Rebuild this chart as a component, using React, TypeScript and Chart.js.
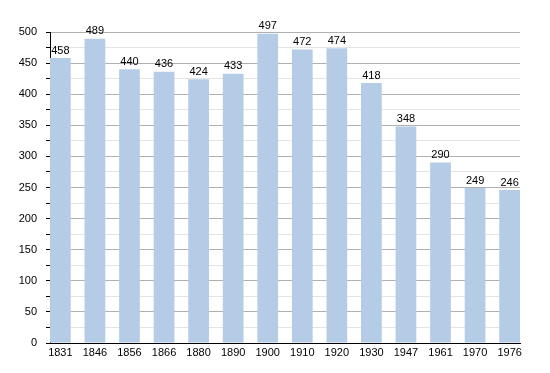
import React, { useEffect, useRef } from "react";
import { Chart, registerables } from "chart.js";

Chart.register(...registerables);

const years = ["1831", "1846", "1856", "1866", "1880", "1890", "1900", "1910", "1920", "1930", "1947", "1961", "1970", "1976"];
const population = [458, 489, 440, 436, 424, 433, 497, 472, 474, 418, 348, 290, 249, 246];

const valueLabels = {
  id: "valueLabels",
  afterDatasetsDraw(chart: any) {
    const ctx = chart.ctx;
    const meta = chart.getDatasetMeta(0);
    ctx.save();
    ctx.font = "11px 'Liberation Sans', Arial, sans-serif";
    ctx.fillStyle = "#000";
    ctx.textAlign = "center";
    ctx.textBaseline = "bottom";
    meta.data.forEach((bar: any, i: number) => {
      ctx.fillText(String(population[i]), bar.x, bar.y - 2);
    });
    ctx.restore();
  },
};

export default function App() {
  const ref = useRef<HTMLCanvasElement>(null);
  useEffect(() => {
    if (!ref.current) return;
    const chart = new Chart(ref.current, {
      type: "bar",
      data: {
        datasets: [
          {
            data: population.map((v, i) => ({ x: i, y: v })),
            backgroundColor: "#b4cce6",
            borderWidth: 0,
            barPercentage: 0.6,
            categoryPercentage: 1,
          },
        ],
      },
      options: {
        animation: false,
        responsive: true,
        maintainAspectRatio: false,
        layout: { padding: { left: 0, right: 30, top: 32, bottom: 0 } },
        plugins: { legend: { display: false }, tooltip: { enabled: false } },
        scales: {
          x: {
            type: "linear",
            offset: false,
            min: -0.3,
            max: 13.3,
            grid: { display: false, drawTicks: false, offset: false },
            border: { display: true, color: "#000", width: 1 },
            ticks: {
              stepSize: 1,
              includeBounds: false,
              autoSkip: false,
              maxRotation: 0,
              padding: 3,
              color: "#000",
              font: { family: "'Liberation Sans', Arial, sans-serif", size: 11 },
              callback: (v: any) => (Number.isInteger(v) && years[v] ? years[v] : ""),
            },
            afterFit: (s: any) => {
              s.height = 30;
            },
          },
          y: {
            min: 0,
            max: 500,
            grid: {
              color: (c: any) => (c.tick && c.tick.value % 50 === 0 ? "#b0b0b0" : "#e4e4e4"),
              tickColor: "#000",
              tickLength: 4,
              drawTicks: true,
            },
            border: { display: true, color: "#000", width: 1 },
            ticks: {
              stepSize: 25,
              autoSkip: false,
              padding: 9,
              color: "#000",
              font: { family: "'Liberation Sans', Arial, sans-serif", size: 11 },
              callback: (v: any) => (v % 50 === 0 ? String(v) : ""),
            },
            afterFit: (s: any) => {
              s.width = 50;
            },
          },
        },
      },
      plugins: [valueLabels],
    });
    return () => chart.destroy();
  }, []);
  return (
    <div style={{ position: "fixed", left: 0, top: 0, width: 550, height: 373 }}>
      <canvas ref={ref} />
    </div>
  );
}
